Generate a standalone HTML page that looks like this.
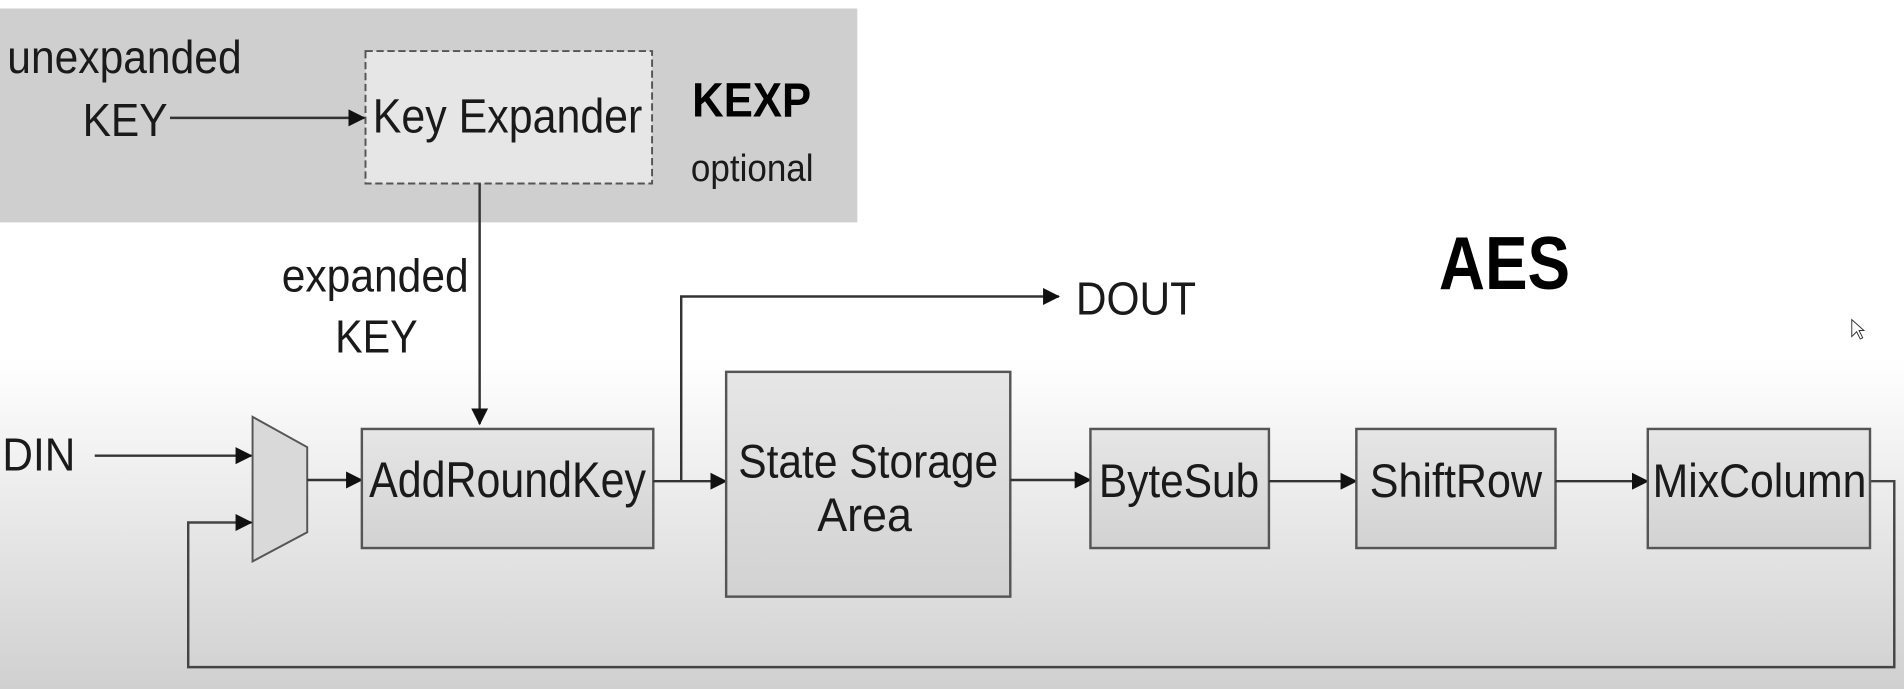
<!DOCTYPE html>
<html><head><style>
html,body{margin:0;padding:0;background:#fff;}
svg{display:block;}
text{font-family:"Liberation Sans",Arial,sans-serif;fill:#1a1a1a;}
</style></head><body>
<svg width="1904" height="689" viewBox="0 0 1568 567" preserveAspectRatio="none" xmlns="http://www.w3.org/2000/svg">
<defs>
<linearGradient id="bg" x1="0" y1="0" x2="0" y2="1">
<stop offset="0" stop-color="#ffffff"/><stop offset="0.52" stop-color="#ffffff"/><stop offset="1" stop-color="#d0d0d0"/>
</linearGradient>
<linearGradient id="box" x1="0" y1="0" x2="0" y2="1">
<stop offset="0" stop-color="#e6e6e6"/><stop offset="1" stop-color="#d2d2d2"/>
</linearGradient>
<marker id="ah" markerWidth="14" markerHeight="14" refX="13" refY="7" orient="auto" markerUnits="userSpaceOnUse">
<path d="M0,0 L14,7 L0,14 Z" fill="#111"/>
</marker>
</defs>
<rect x="0" y="0" width="1568" height="567" fill="url(#bg)"/>
<rect x="0" y="7" width="706" height="176" fill="#cfcfcf"/>
<rect x="301" y="42" width="236" height="109" fill="#e6e6e6" stroke="#555" stroke-width="1.6" stroke-dasharray="6,3"/>
<text x="418" y="109" font-size="40" text-anchor="middle" textLength="222" lengthAdjust="spacingAndGlyphs">Key Expander</text>
<text x="6" y="60" font-size="38" textLength="193" lengthAdjust="spacingAndGlyphs">unexpanded</text>
<text x="68" y="112" font-size="38" textLength="70" lengthAdjust="spacingAndGlyphs">KEY</text>
<line x1="140" y1="97" x2="300" y2="97" stroke="#333" stroke-width="2" marker-end="url(#ah)"/>
<text x="570" y="96" font-size="40" font-weight="bold" style="fill:#000" textLength="98" lengthAdjust="spacingAndGlyphs">KEXP</text>
<text x="569" y="149" font-size="31" textLength="101" lengthAdjust="spacingAndGlyphs">optional</text>
<line x1="395" y1="151" x2="395" y2="349" stroke="#333" stroke-width="2" marker-end="url(#ah)"/>
<text x="232" y="240" font-size="38" textLength="154" lengthAdjust="spacingAndGlyphs">expanded</text>
<text x="276" y="290" font-size="38" textLength="68" lengthAdjust="spacingAndGlyphs">KEY</text>
<text x="2" y="387" font-size="38" textLength="60" lengthAdjust="spacingAndGlyphs">DIN</text>
<line x1="78" y1="375" x2="207" y2="375" stroke="#333" stroke-width="2" marker-end="url(#ah)"/>
<polygon points="208,343 253,368 253,438 208,462" fill="#d9d9d9" stroke="#555" stroke-width="1.6"/>
<polyline points="1540,396 1560,396 1560,549 155,549 155,430 207,430" fill="none" stroke="#444" stroke-width="2" marker-end="url(#ah)"/>
<line x1="253" y1="395" x2="298" y2="395" stroke="#333" stroke-width="2" marker-end="url(#ah)"/>
<rect x="298" y="353" width="240" height="98" fill="url(#box)" stroke="#555" stroke-width="2"/>
<text x="418" y="409" font-size="41" text-anchor="middle" textLength="228" lengthAdjust="spacingAndGlyphs">AddRoundKey</text>
<line x1="538" y1="396" x2="598" y2="396" stroke="#333" stroke-width="2" marker-end="url(#ah)"/>
<polyline points="561,396 561,244 872,244" fill="none" stroke="#333" stroke-width="2" marker-end="url(#ah)"/>
<text x="886" y="259" font-size="38" textLength="99" lengthAdjust="spacingAndGlyphs">DOUT</text>
<text x="1185" y="238" font-size="62" font-weight="bold" style="fill:#000" textLength="108" lengthAdjust="spacingAndGlyphs">AES</text>
<rect x="598" y="306" width="234" height="185" fill="url(#box)" stroke="#555" stroke-width="2"/>
<text x="715" y="393" font-size="39" text-anchor="middle" textLength="214" lengthAdjust="spacingAndGlyphs">State Storage</text>
<text x="712" y="437" font-size="39" text-anchor="middle" textLength="78" lengthAdjust="spacingAndGlyphs">Area</text>
<line x1="832" y1="395" x2="898" y2="395" stroke="#333" stroke-width="2" marker-end="url(#ah)"/>
<rect x="898" y="353" width="147" height="98" fill="url(#box)" stroke="#555" stroke-width="2"/>
<text x="971" y="409" font-size="39" text-anchor="middle" textLength="132" lengthAdjust="spacingAndGlyphs">ByteSub</text>
<line x1="1045" y1="396" x2="1117" y2="396" stroke="#333" stroke-width="2" marker-end="url(#ah)"/>
<rect x="1117" y="353" width="164" height="98" fill="url(#box)" stroke="#555" stroke-width="2"/>
<text x="1199" y="409" font-size="39" text-anchor="middle" textLength="142" lengthAdjust="spacingAndGlyphs">ShiftRow</text>
<line x1="1281" y1="396" x2="1357" y2="396" stroke="#333" stroke-width="2" marker-end="url(#ah)"/>
<rect x="1357" y="353" width="183" height="98" fill="url(#box)" stroke="#555" stroke-width="2"/>
<text x="1449" y="409" font-size="39" text-anchor="middle" textLength="176" lengthAdjust="spacingAndGlyphs">MixColumn</text>
<path d="M1525,263 L1525,277 L1529,273 L1532,279 L1534,278 L1531,272 L1535,272 Z" fill="#fff" stroke="#333" stroke-width="0.8"/>
</svg>
</body></html>
